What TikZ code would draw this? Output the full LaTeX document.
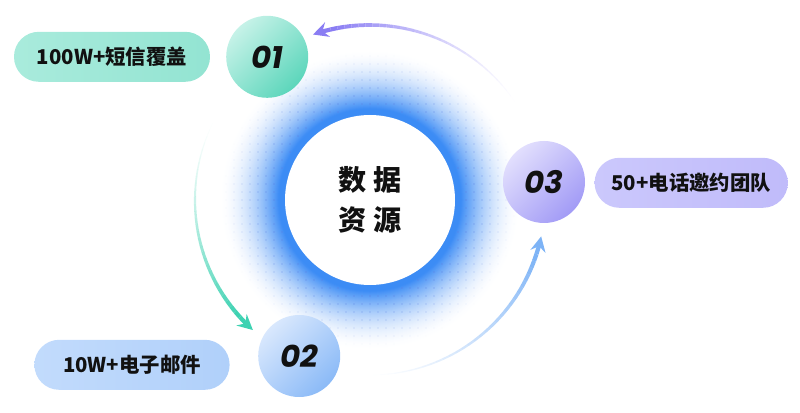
\documentclass[tikz,border=0pt]{standalone}
\usepackage{fontspec}
\newfontfamily\cjk{Noto Sans CJK SC}
\newfontfamily\numfont{Poppins}
\usetikzlibrary{arrows.meta,backgrounds}
\definecolor{inkblack}{HTML}{111111}
\definecolor{ringblue}{HTML}{3C8CF5}
\definecolor{dotblue}{HTML}{5B7FE2}
\definecolor{arcpurple}{HTML}{8A7DF3}
\definecolor{arcteal}{HTML}{3ED2B2}
\definecolor{arcblue}{HTML}{7DB3F6}
\definecolor{tealpale}{HTML}{C6F2E8}
\definecolor{tealdeep}{HTML}{5CD6BB}
\definecolor{bluepale}{HTML}{D9E8FD}
\definecolor{bluedeep}{HTML}{8BBAF7}
\definecolor{lilacpale}{HTML}{E2DFFD}
\definecolor{lilacdeep}{HTML}{A29BF6}
\definecolor{pilltealL}{HTML}{A9EBDC}
\definecolor{pilltealR}{HTML}{93E4D2}
\definecolor{pillblueL}{HTML}{C2DBFC}
\definecolor{pillblueR}{HTML}{B0D0FA}
\definecolor{pilllilacL}{HTML}{CBC8FC}
\definecolor{pilllilacR}{HTML}{C0BBFA}
\tikzset{
  >={Stealth[length=3.8mm,width=3.8mm,inset=1.3mm]},
  corebox/.style={
    circle,
    fill=white,
    minimum size=4.25cm,
    inner sep=0pt,
    align=center,
    font=\cjk\bfseries\fontsize{20}{28.5}\selectfont,
    text=inkblack,
  },
  numbubble/.style={
    circle,
    minimum size=2.05cm,
    inner sep=0pt,
    font=\numfont\bfseries\itshape\fontsize{22}{26}\selectfont,
    text=inkblack,
  },
  tagpill/.style={
    rounded corners=0.62cm,
    minimum height=1.25cm,
    inner sep=0pt,
    font=\cjk\bfseries\fontsize{14.5}{17}\selectfont,
    text=inkblack,
  },
}

\begin{document}
\begin{tikzpicture}[line cap=butt]
  \useasboundingbox (0,0) rectangle (20,10.3);

  \node[corebox] (core) at (9.25, 5.3) {数 据\\资 源};

  \begin{scope}[on background layer]
    % blue halo, outer rings first
    \foreach \k in {0,...,65} {
      \pgfmathsetmacro{\rr}{3.75-\k*0.025}
      \pgfmathsetmacro{\t}{(\rr-2.125)/1.625}
      \pgfmathsetmacro{\pct}{\t<0.1 ? 100 : 100*(max(0,1-\t)/0.9)^1.8}
      \fill[ringblue!\pct!white] (core.center) circle (\rr);
    }
    \foreach \i in {-18,...,18} {
      \foreach \j in {-18,...,18} {
        \pgfmathsetmacro{\dd}{veclen(\i,\j)*0.2}
        \pgfmathtruncatemacro{\keep}{and(\dd>2.3,\dd<3.7)}
        \ifnum\keep=1
          \pgfmathsetmacro{\op}{0.5*(3.7-\dd)/1.4}
          \fill[dotblue, opacity=\op] (core.center) ++(\i*0.2, \j*0.2) circle (0.022);
        \fi
      }
    }
  \end{scope}

  \node[numbubble, top color=tealpale, bottom color=tealdeep, shading angle=45] (n1) at (6.68, 8.88) {01};
  \node[numbubble, top color=bluepale, bottom color=bluedeep, shading angle=45] (n2) at (7.48, 1.4) {02};
  \node[numbubble, top color=lilacpale, bottom color=lilacdeep, shading angle=45] (n3) at (13.6, 5.75) {03};

  \node[tagpill, minimum width=4.9cm, left color=pilltealL, right color=pilltealR] (sms) at (2.8, 8.88) {100W+短信覆盖};
  \node[tagpill, minimum width=4.88cm, left color=pillblueL, right color=pillblueR] (mail) at (3.3, 1.18) {10W+电子邮件};
  \node[tagpill, minimum width=4.83cm, left color=pilllilacL, right color=pilllilacR] (call) at (17.28, 5.73) {50+电话邀约团队};

  % fading arcs round the hub, tip at each number
  \foreach \col/\from/\to in {arcpurple/34/109, arcteal/154/228, arcblue/271/348} {
    \pgfmathsetmacro{\stepang}{(\to-6-\from)/30}
    \foreach \k in {0,...,29} {
      \pgfmathsetmacro{\a}{\from+\k*\stepang}
      \pgfmathsetmacro{\b}{\a+\stepang}
      \pgfmathsetmacro{\op}{((\k+1)/30)^1.4}
      \pgfmathsetmacro{\lw}{0.5+2.5*(\k+1)/30}
      \draw[\col, opacity=\op, line width=\lw pt] (core.center) ++(\a:4.375) arc[start angle=\a, end angle=\b, radius=4.375];
    }
    \draw[->, \col, line width=3pt] (core.center) ++(\to-6:4.375) arc[start angle=\to-6, end angle=\to, radius=4.375];
  }
\end{tikzpicture}
\end{document}
